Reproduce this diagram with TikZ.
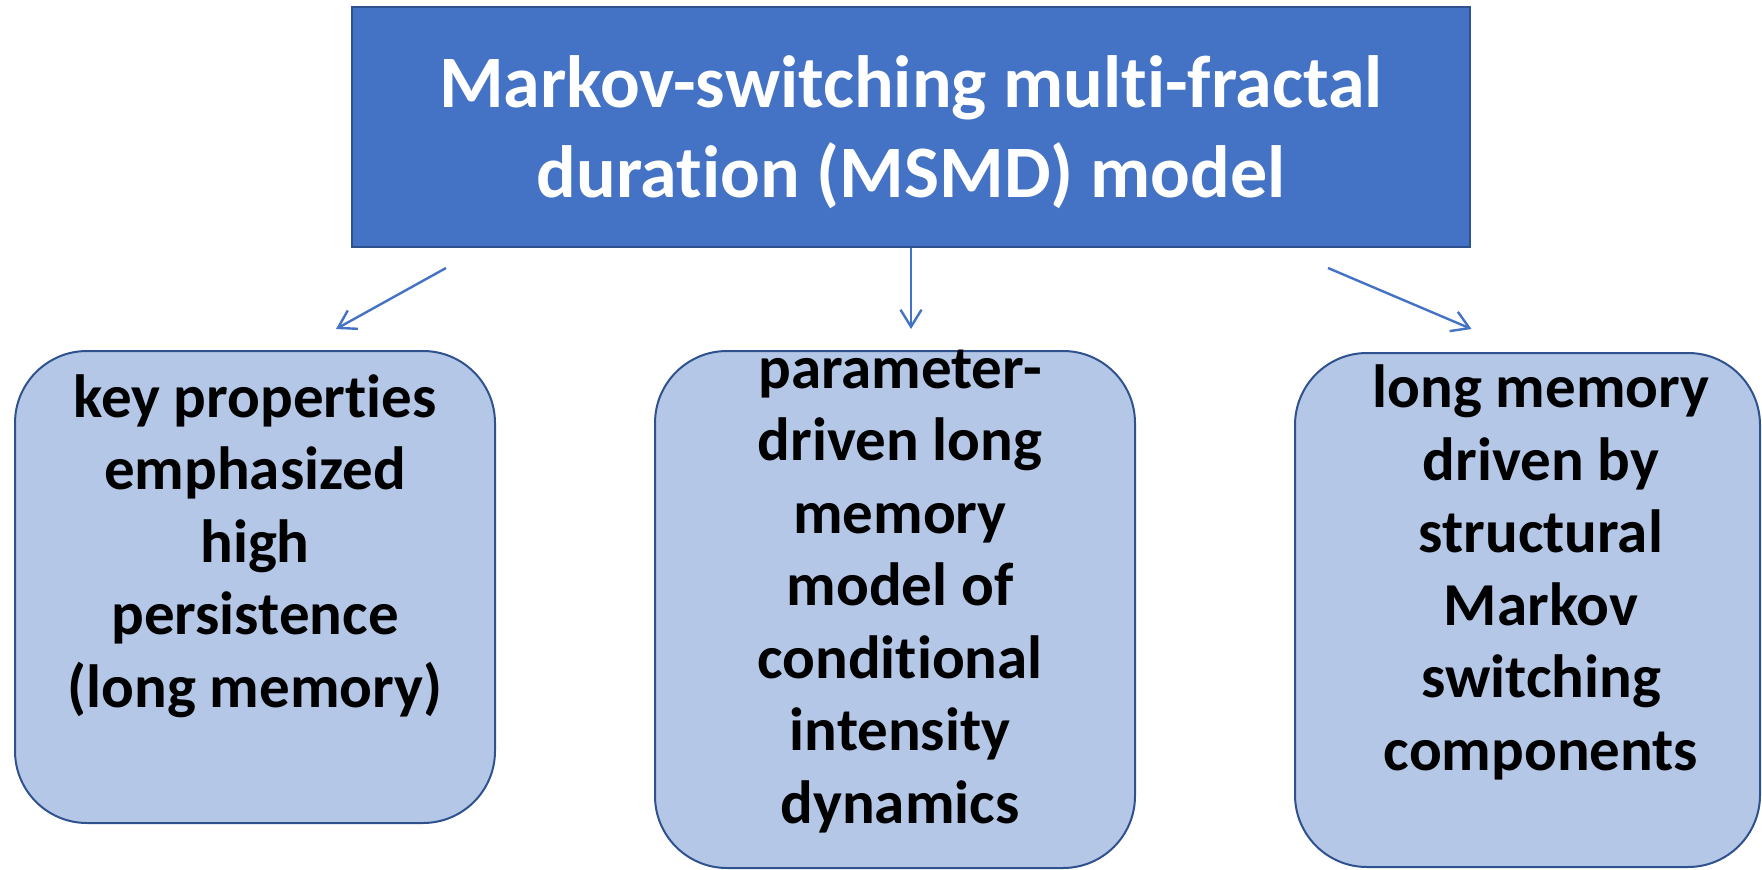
\documentclass[tikz,border=0pt]{standalone}
\usepackage{fontspec}
\setmainfont{Carlito}[Ligatures=NoCommon]
\usetikzlibrary{arrows.meta}
\definecolor{headfill}{HTML}{4472C4}
\definecolor{edgeblue}{HTML}{2F528F}
\definecolor{cardfill}{HTML}{B4C7E7}
\definecolor{arrowblue}{HTML}{4472C4}
\tikzset{
  headbox/.style={rectangle, draw=edgeblue, fill=headfill, line width=2pt, inner sep=0pt},
  card/.style={rectangle, draw=edgeblue, fill=cardfill, line width=2pt, inner sep=0pt, rounded corners=72pt},
  headtext/.style={anchor=base, align=center, text=white, inner sep=0pt,
    font=\fontsize{74}{90}\selectfont\bfseries},
  cardtext/.style={anchor=base, align=center, text=black, inner sep=0pt,
    font=\fontsize{61}{72.5}\selectfont\bfseries},
  link/.style={draw=arrowblue, line width=2.4pt,
    -{Straight Barb[length=17pt, width=21pt, line width=2.4pt]}}
}
\begin{document}
\begin{tikzpicture}[x=1pt, y=-1pt]
\useasboundingbox (0,0) rectangle (1762,870);

% model header
\node[headbox, minimum width=1118pt, minimum height=240pt] (top) at (911,127) {};
% base anchor sits on the last line of each text block
\node[headtext] (toptext) at (911,197) {Markov-switching multi-fractal\\duration (MSMD) model};

% three property cards
\node[card, minimum width=480pt, minimum height=472pt] (left) at (255,587) {};
\node[card, minimum width=480pt, minimum height=517pt] (mid) at (895,609.5) {};
\node[card, minimum width=465pt, minimum height=514pt] (right) at (1527.5,610) {};

\node[cardtext] (lefttext) at (255,707) {key properties\\emphasized\\high\\persistence\\(long memory)};
\node[cardtext] (midtext) at (900,823) {parameter-\\driven long\\memory\\model of\\conditional\\intensity\\dynamics};
\node[cardtext] (righttext) at (1541,770) {long memory\\driven by\\structural\\Markov\\switching\\components};

% arrow ends
\coordinate (ls) at ([shift={(95,20)}]top.south west);
\coordinate (le) at ([shift={(81,-21)}]left.north);
\coordinate (ms) at (top.south);
\coordinate (me) at ([shift={(15,-21)}]mid.north);
\coordinate (rs) at ([shift={(-143,20)}]top.south east);
\coordinate (re) at ([shift={(-56,-23)}]right.north);

\draw[link] (ls) -- (le);
\draw[link] (ms) -- (ms |- me);
\draw[link] (rs) -- (re);
\end{tikzpicture}
\end{document}
